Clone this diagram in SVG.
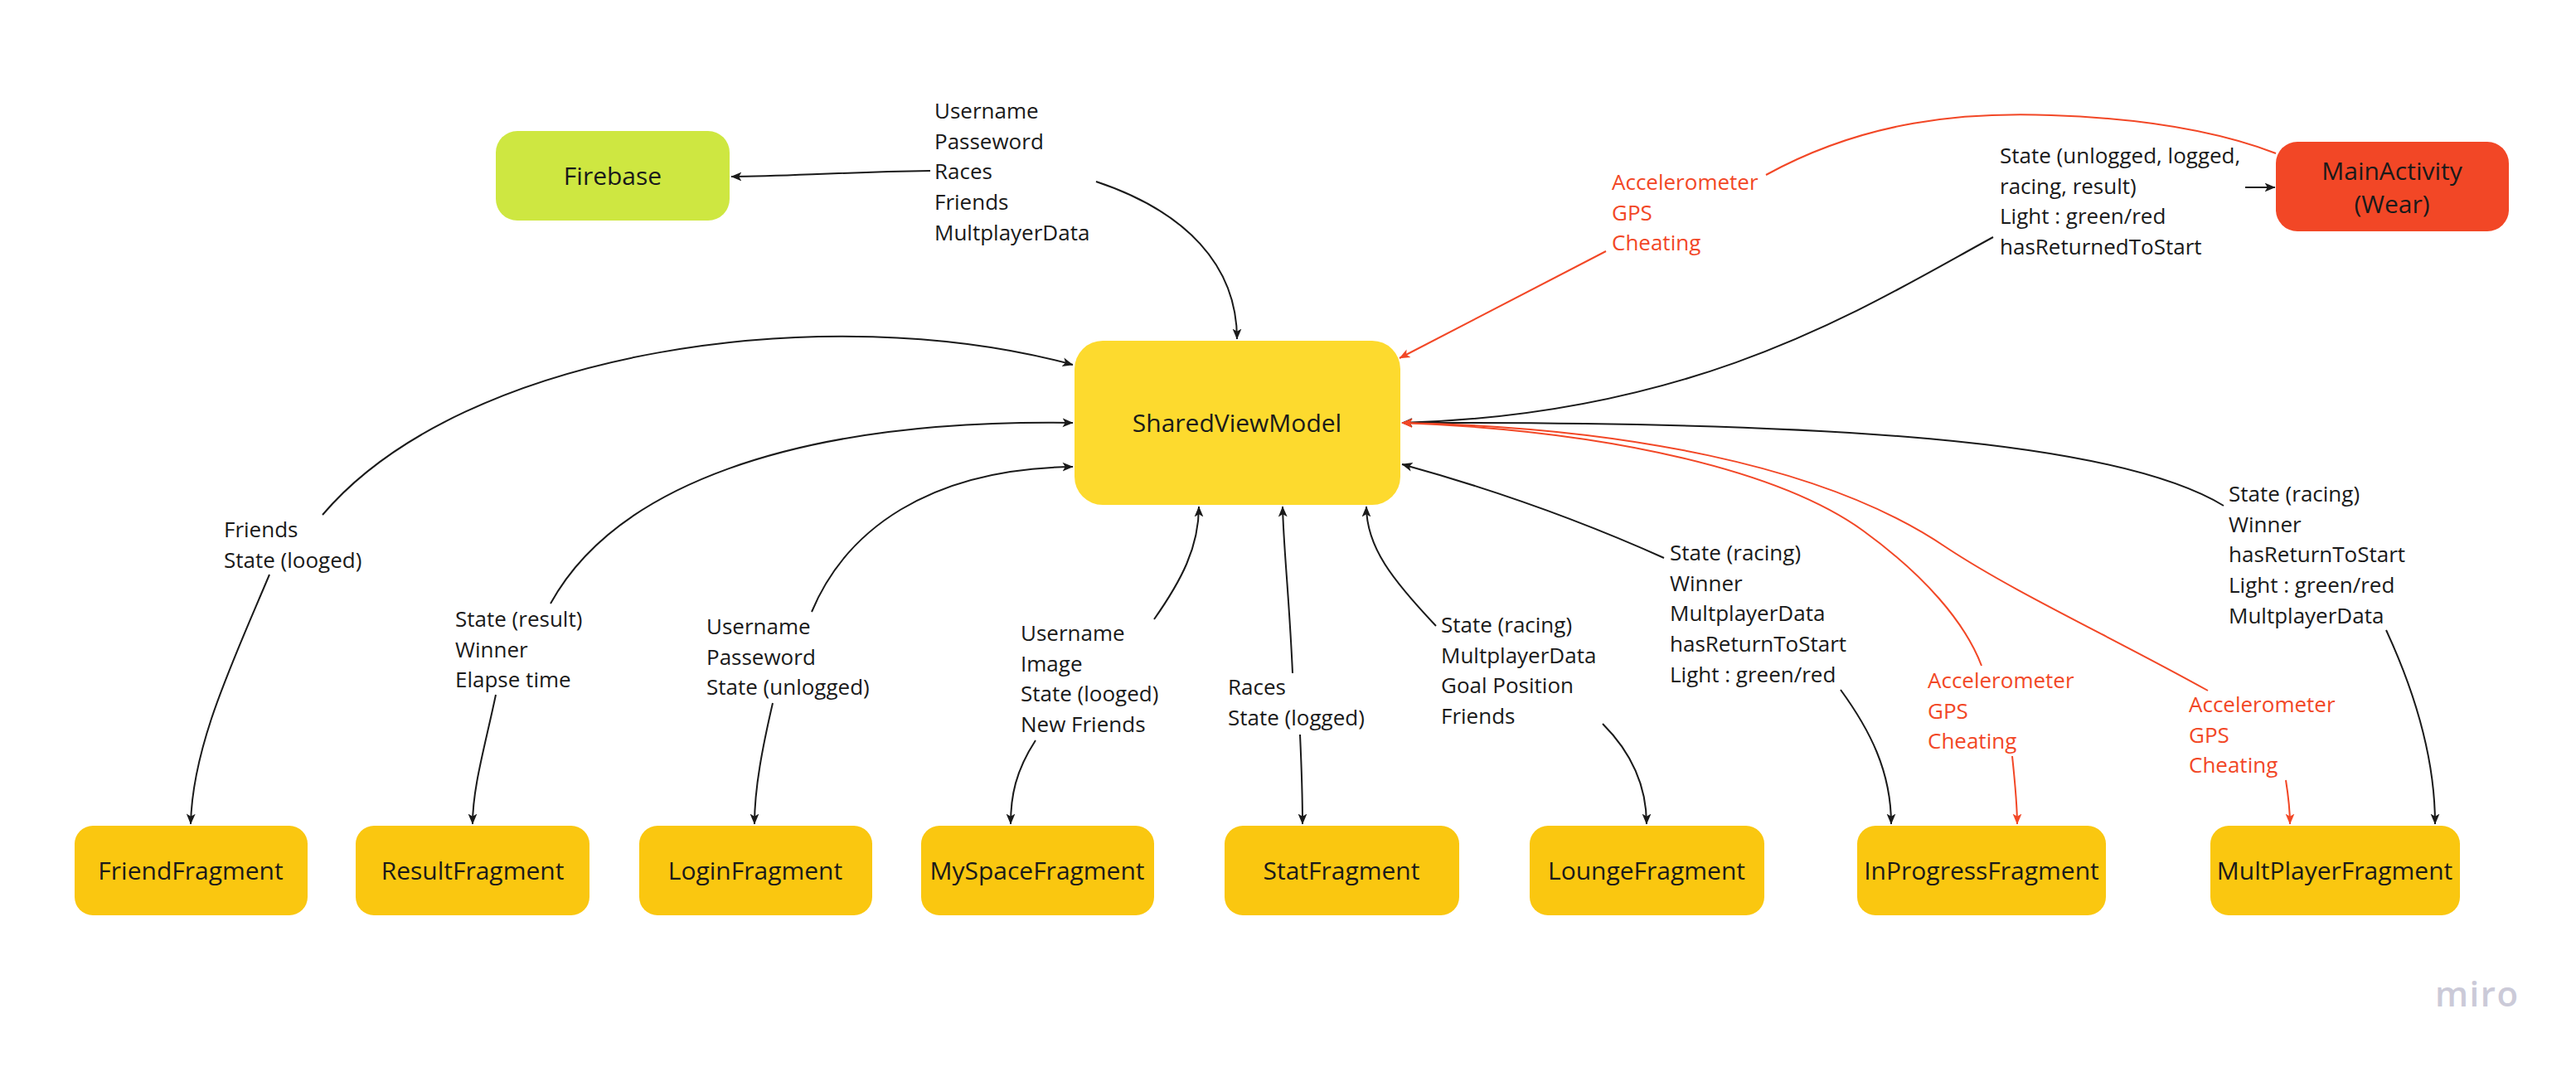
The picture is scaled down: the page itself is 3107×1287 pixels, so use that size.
<svg xmlns="http://www.w3.org/2000/svg" width="3107" height="1287" viewBox="0 0 3107 1287">
<style>
.node text{font-family:"Open Sans","Liberation Sans",sans-serif;font-size:30px;fill:#1a1a1a;text-anchor:middle}
.lbl{font-family:"Open Sans","Liberation Sans",sans-serif;font-size:26px;fill:#1a1a1a}
.red{fill:#F24726}
.c{fill:none;stroke:#1a1a1a;stroke-width:2}
.cr{fill:none;stroke:#F24726;stroke-width:2}
.a{marker-end:url(#ab)}
.ar{marker-end:url(#ar)}
.frag{fill:#FAC710}
</style>
<defs>
<marker id="ab" viewBox="0 0 12 12" refX="11.5" refY="6" markerWidth="13" markerHeight="13" markerUnits="userSpaceOnUse" orient="auto"><path d="M0,1 L12,6 L0,11 L3,6 z" fill="#1a1a1a"/></marker>
<marker id="ar" viewBox="0 0 12 12" refX="11.5" refY="6" markerWidth="13" markerHeight="13" markerUnits="userSpaceOnUse" orient="auto"><path d="M0,1 L12,6 L0,11 L3,6 z" fill="#F24726"/></marker>
</defs>
<rect width="3107" height="1287" fill="#ffffff"/>

<g id="connectors">
<path class="c a" d="M1122,206 C1000,208 950,213 882,213"/>
<path class="c a" d="M1322,219 C1430,255 1492,320 1492,409"/>
<path class="c a" d="M389,621 C560,420 1000,360 1294,440"/>
<path class="c a" d="M325,693 C280,800 232,900 230,994"/>
<path class="c a" d="M664,728 C740,590 950,505 1294,510"/>
<path class="c a" d="M598,838 C585,900 570,950 570,994"/>
<path class="c a" d="M979,738 C1020,640 1120,565 1294,563"/>
<path class="c a" d="M932,848 C920,900 910,950 910,994"/>
<path class="c a" d="M1392,747 C1425,700 1446,660 1446,611"/>
<path class="c a" d="M1249,893 C1225,930 1219,960 1219,994"/>
<path class="c a" d="M1559,812 C1555,720 1548,660 1547,611"/>
<path class="c a" d="M1568,886 C1570,930 1571,960 1571,994"/>
<path class="c a" d="M1732,755 C1680,700 1648,660 1648,611"/>
<path class="c a" d="M1933,873 C1970,910 1986,950 1986,994"/>
<path class="c a" d="M2007,673 C1900,625 1800,590 1691,560"/>
<path class="c a" d="M2220,832 C2255,880 2281,930 2281,994"/>
<path class="c a" d="M2682,610 C2550,530 2200,508 1691,510"/>
<path class="c a" d="M2878,760 C2915,840 2937,920 2937,994"/>
<path class="c a" d="M2404,286 C2250,370 2050,500 1691,510"/>
<path class="c a" d="M2708,226 L2744,226"/>
<path class="cr" d="M2130,211 C2250,145 2370,135 2474,139 C2590,143 2680,160 2745,185"/>
<path class="cr ar" d="M1937,303 L1688,432"/>
<path class="cr ar" d="M2663,833 C2550,770 2430,715 2347,660 C2200,560 1950,515 1691,510"/>
<path class="cr ar" d="M2390,803 C2370,750 2320,693 2247,640 C2150,570 1950,520 1691,510"/>
<path class="cr ar" d="M2427,912 C2431,950 2433,970 2433,994"/>
<path class="cr ar" d="M2757,941 C2760,960 2762,975 2762,994"/>
</g>

<g id="firebase" class="node"><rect x="598" y="158" width="282" height="108" rx="26" fill="#CEE741"/><text x="739" y="223">Firebase</text></g>
<g id="sharedviewmodel" class="node"><rect x="1296" y="411" width="393" height="198" rx="34" fill="#FDDA2E"/><text x="1492" y="521">SharedViewModel</text></g>
<g id="mainactivity" class="node"><rect x="2745" y="171" width="281" height="108" rx="26" fill="#F24726"/><text x="2885" y="217">MainActivity</text><text x="2885" y="257">(Wear)</text></g>
<g id="friendfragment" class="node"><rect class="frag" x="90" y="996" width="281" height="108" rx="22"/><text x="230" y="1061">FriendFragment</text></g>
<g id="resultfragment" class="node"><rect class="frag" x="429" y="996" width="282" height="108" rx="22"/><text x="570" y="1061">ResultFragment</text></g>
<g id="loginfragment" class="node"><rect class="frag" x="771" y="996" width="281" height="108" rx="22"/><text x="911" y="1061">LoginFragment</text></g>
<g id="myspacefragment" class="node"><rect class="frag" x="1111" y="996" width="281" height="108" rx="22"/><text x="1251" y="1061">MySpaceFragment</text></g>
<g id="statfragment" class="node"><rect class="frag" x="1477" y="996" width="283" height="108" rx="22"/><text x="1618" y="1061">StatFragment</text></g>
<g id="loungefragment" class="node"><rect class="frag" x="1845" y="996" width="283" height="108" rx="22"/><text x="1986" y="1061">LoungeFragment</text></g>
<g id="inprogressfragment" class="node"><rect class="frag" x="2240" y="996" width="300" height="108" rx="22"/><text x="2390" y="1061">InProgressFragment</text></g>
<g id="multplayerfragment" class="node"><rect class="frag" x="2666" y="996" width="301" height="108" rx="22"/><text x="2816" y="1061">MultPlayerFragment</text></g>

<g id="labels">
<text class="lbl" x="1127" y="143"><tspan x="1127">Username</tspan><tspan x="1127" dy="36.7">Passeword</tspan><tspan x="1127" dy="36.7">Races</tspan><tspan x="1127" dy="36.7">Friends</tspan><tspan x="1127" dy="36.7">MultplayerData</tspan></text>
<text class="lbl red" x="1944" y="229"><tspan x="1944">Accelerometer</tspan><tspan x="1944" dy="36.7">GPS</tspan><tspan x="1944" dy="36.7">Cheating</tspan></text>
<text class="lbl" x="2412" y="197"><tspan x="2412">State (unlogged, logged,</tspan><tspan x="2412" dy="36.7">racing, result)</tspan><tspan x="2412" dy="36.7">Light : green/red</tspan><tspan x="2412" dy="36.7">hasReturnedToStart</tspan></text>
<text class="lbl" x="270" y="648"><tspan x="270">Friends</tspan><tspan x="270" dy="36.7">State (looged)</tspan></text>
<text class="lbl" x="549" y="756"><tspan x="549">State (result)</tspan><tspan x="549" dy="36.7">Winner</tspan><tspan x="549" dy="36.7">Elapse time</tspan></text>
<text class="lbl" x="852" y="765"><tspan x="852">Username</tspan><tspan x="852" dy="36.7">Passeword</tspan><tspan x="852" dy="36.7">State (unlogged)</tspan></text>
<text class="lbl" x="1231" y="773"><tspan x="1231">Username</tspan><tspan x="1231" dy="36.7">Image</tspan><tspan x="1231" dy="36.7">State (looged)</tspan><tspan x="1231" dy="36.7">New Friends</tspan></text>
<text class="lbl" x="1481" y="838"><tspan x="1481">Races</tspan><tspan x="1481" dy="36.7">State (logged)</tspan></text>
<text class="lbl" x="1738" y="763"><tspan x="1738">State (racing)</tspan><tspan x="1738" dy="36.7">MultplayerData</tspan><tspan x="1738" dy="36.7">Goal Position</tspan><tspan x="1738" dy="36.7">Friends</tspan></text>
<text class="lbl" x="2014" y="676"><tspan x="2014">State (racing)</tspan><tspan x="2014" dy="36.7">Winner</tspan><tspan x="2014" dy="36.7">MultplayerData</tspan><tspan x="2014" dy="36.7">hasReturnToStart</tspan><tspan x="2014" dy="36.7">Light : green/red</tspan></text>
<text class="lbl red" x="2325" y="830"><tspan x="2325">Accelerometer</tspan><tspan x="2325" dy="36.7">GPS</tspan><tspan x="2325" dy="36.7">Cheating</tspan></text>
<text class="lbl red" x="2640" y="859"><tspan x="2640">Accelerometer</tspan><tspan x="2640" dy="36.7">GPS</tspan><tspan x="2640" dy="36.7">Cheating</tspan></text>
<text class="lbl" x="2688" y="605"><tspan x="2688">State (racing)</tspan><tspan x="2688" dy="36.7">Winner</tspan><tspan x="2688" dy="36.7">hasReturnToStart</tspan><tspan x="2688" dy="36.7">Light : green/red</tspan><tspan x="2688" dy="36.7">MultplayerData</tspan></text>
</g>
<text x="2937" y="1214" font-family="'Open Sans','Liberation Sans',sans-serif" font-size="42" font-weight="600" letter-spacing="1.5" fill="#CBCAD8">miro</text>
</svg>
